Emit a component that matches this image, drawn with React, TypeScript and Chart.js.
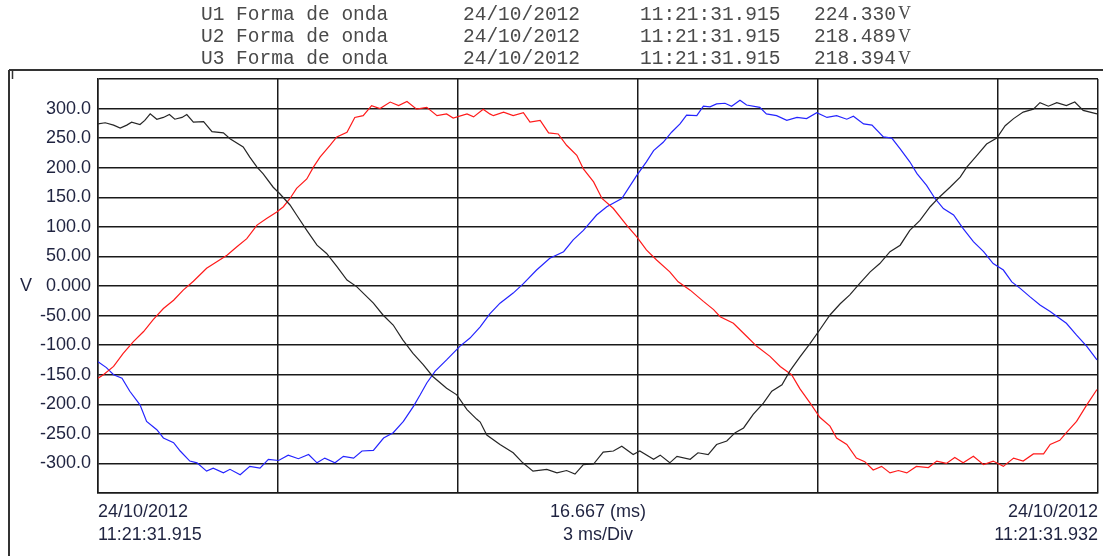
import React, { useEffect, useRef } from "react";
import { Chart, registerables } from "chart.js";

Chart.register(...registerables);

// ---------- header text ----------
const headerNames = ["U1 Forma de onda", "U2 Forma de onda", "U3 Forma de onda"];
const headerDates = ["24/10/2012", "24/10/2012", "24/10/2012"];
const headerTimes = ["11:21:31.915", "11:21:31.915", "11:21:31.915"];
const headerValues = ["224.330", "218.489", "218.394"];
const headerUnit = "V";

// ---------- axis text ----------
const yUnitLabel = "V";
const xStartLabel = ["24/10/2012", "11:21:31.915"];
const xMidLabel = ["16.667 (ms)", "3 ms/Div"];
const xEndLabel = ["24/10/2012", "11:21:31.932"];

const windowMs = 16.667;
const divisionMs = 3;
const voltMin = -350;
const voltMax = 350;
const voltStep = 50;

// ---------- series (time in ms, value in V) ----------
const u1TimeMs = [0.00,0.12,0.26,0.37,0.48,0.56,0.70,0.78,0.87,0.98,1.09,1.19,1.28,1.40,1.48,1.59,1.76,1.90,2.09,2.20,2.42,2.53,2.65,2.75,2.92,3.03,3.20,3.31,3.48,3.65,3.81,3.98,4.15,4.31,4.59,4.75,4.92,5.08,5.25,5.42,5.58,5.81,5.98,6.15,6.31,6.37,6.48,6.70,6.92,7.08,7.25,7.48,7.65,7.81,7.95,8.09,8.26,8.42,8.59,8.73,8.92,9.03,9.26,9.37,9.53,9.65,9.87,10.00,10.17,10.31,10.48,10.62,10.76,10.92,11.09,11.23,11.40,11.53,11.70,11.87,12.03,12.20,12.37,12.53,12.70,12.87,13.03,13.20,13.37,13.53,13.70,13.87,14.03,14.20,14.37,14.48,14.65,14.81,14.98,15.12,15.26,15.42,15.59,15.70,15.84,15.98,16.14,16.28,16.42,16.65];
const u1Volts = [274,276,272,267,272,277,273,280,291,282,285,290,282,285,290,277,278,261,259,249,235,218,201,190,167,156,137,120,94,69,55,33,10,-1,-29,-49,-66,-91,-114,-133,-153,-173,-184,-209,-225,-230,-252,-268,-282,-299,-313,-310,-316,-312,-318,-302,-301,-281,-279,-271,-285,-279,-293,-286,-299,-288,-293,-282,-285,-268,-262,-248,-240,-217,-198,-178,-167,-144,-120,-97,-74,-49,-30,-15,5,24,38,58,69,94,111,134,151,167,184,201,221,240,250,271,283,294,299,310,304,310,305,311,297,291];

const u2TimeMs = [0.00,0.09,0.26,0.42,0.59,0.76,0.92,1.09,1.26,1.42,1.59,1.81,1.98,2.15,2.31,2.48,2.65,2.81,2.98,3.09,3.20,3.31,3.48,3.59,3.70,3.87,3.98,4.15,4.28,4.42,4.56,4.70,4.87,5.01,5.15,5.31,5.48,5.65,5.81,5.92,6.15,6.26,6.42,6.53,6.59,6.76,6.92,7.09,7.20,7.37,7.51,7.67,7.81,7.98,8.09,8.26,8.40,8.59,8.81,8.98,9.14,9.31,9.53,9.67,9.87,10.09,10.26,10.37,10.59,10.81,10.98,11.20,11.37,11.56,11.70,11.87,12.03,12.20,12.31,12.48,12.64,12.78,12.92,13.06,13.20,13.34,13.48,13.64,13.84,13.98,14.14,14.28,14.42,14.59,14.76,14.92,15.09,15.26,15.42,15.59,15.76,15.87,16.03,16.14,16.31,16.48,16.65];
const u2Volts = [-156,-150,-136,-114,-94,-77,-57,-38,-24,-7,8,30,41,52,66,80,103,114,125,134,148,165,181,201,218,238,252,260,285,288,305,300,311,305,312,299,302,288,291,284,291,286,299,291,288,294,288,293,277,280,259,257,238,221,198,176,148,131,103,83,61,44,24,7,-7,-26,-40,-52,-63,-85,-102,-119,-136,-150,-174,-198,-222,-237,-257,-268,-291,-297,-311,-305,-316,-312,-316,-305,-307,-296,-300,-290,-299,-288,-302,-296,-305,-291,-296,-284,-284,-268,-261,-248,-229,-201,-175];

const u3TimeMs = [0.00,0.14,0.26,0.40,0.53,0.70,0.81,0.98,1.09,1.26,1.37,1.53,1.65,1.81,1.92,2.09,2.20,2.37,2.53,2.70,2.84,3.01,3.17,3.34,3.51,3.65,3.78,3.95,4.09,4.26,4.40,4.59,4.76,4.92,5.09,5.26,5.37,5.48,5.62,5.81,6.03,6.20,6.37,6.53,6.70,6.92,7.09,7.31,7.53,7.76,7.92,8.09,8.31,8.48,8.73,8.84,8.98,9.14,9.26,9.42,9.56,9.70,9.81,9.98,10.09,10.20,10.31,10.45,10.56,10.70,10.81,11.03,11.14,11.31,11.48,11.65,11.81,11.98,12.15,12.31,12.48,12.59,12.76,12.90,13.09,13.23,13.37,13.53,13.65,13.81,13.95,14.09,14.26,14.42,14.59,14.76,14.92,15.09,15.23,15.37,15.53,15.70,15.87,16.03,16.14,16.31,16.48,16.65];
const u3Volts = [-128,-138,-150,-156,-178,-201,-229,-243,-257,-265,-279,-296,-299,-313,-308,-316,-310,-319,-305,-308,-293,-295,-286,-292,-285,-299,-291,-299,-288,-291,-279,-278,-257,-248,-229,-203,-184,-164,-144,-125,-102,-88,-69,-47,-29,-12,4,27,47,58,78,94,120,134,148,165,187,210,229,243,260,274,289,288,304,303,308,309,304,314,306,302,291,288,280,285,283,293,285,288,282,287,274,272,252,250,232,210,190,170,148,131,120,97,75,58,38,27,7,-4,-18,-32,-43,-55,-63,-83,-102,-125];

const seriesNames = ["U1", "U2", "U3"];
const seriesColors = ["#262626", "#ff1a1a", "#2424ff"];

const toPoints = (t: number[], v: number[]) => t.map((x, i) => ({ x, y: v[i] }));

const W = 1103;
const H = 556;

const decorPlugin = {
  id: "decor",
  afterDraw(chart: any) {
    const ctx = chart.ctx as CanvasRenderingContext2D;
    const a = chart.chartArea;
    const yScale = chart.scales.y;
    ctx.save();

    // outer frame
    ctx.strokeStyle = "#333";
    ctx.lineWidth = 2;
    ctx.beginPath();
    ctx.moveTo(9, 70);
    ctx.lineTo(W, 70);
    ctx.moveTo(9, 70);
    ctx.lineTo(9, H);
    ctx.stroke();
    ctx.lineWidth = 1.5;
    ctx.beginPath();
    ctx.moveTo(12.5, 71);
    ctx.lineTo(12.5, 79);
    ctx.stroke();

    // header
    ctx.fillStyle = "#4a4a4a";
    ctx.textBaseline = "middle";
    ctx.textAlign = "left";
    const rows = [14.5, 37, 59];
    for (let i = 0; i < headerNames.length; i++) {
      ctx.font = "19.5px 'Liberation Mono'";
      ctx.fillText(headerNames[i], 201, rows[i]);
      ctx.fillText(headerDates[i], 463, rows[i]);
      ctx.fillText(headerTimes[i], 640, rows[i]);
      ctx.fillText(headerValues[i], 814, rows[i]);
      ctx.font = "18px 'Liberation Serif'";
      ctx.fillText(headerUnit, 898, rows[i]);
    }

    // y unit
    ctx.fillStyle = "#1f2340";
    ctx.font = "18px 'Liberation Sans'";
    ctx.textAlign = "center";
    ctx.fillText(yUnitLabel, 26, yScale.getPixelForValue(0));

    // bottom labels
    const r1 = a.bottom + 19.5;
    const r2 = a.bottom + 42;
    ctx.textAlign = "left";
    ctx.fillText(xStartLabel[0], a.left, r1);
    ctx.fillText(xStartLabel[1], a.left, r2);
    ctx.textAlign = "center";
    const mid = (a.left + a.right) / 2;
    ctx.fillText(xMidLabel[0], mid, r1);
    ctx.fillText(xMidLabel[1], mid, r2);
    ctx.textAlign = "right";
    ctx.fillText(xEndLabel[0], a.right, r1);
    ctx.fillText(xEndLabel[1], a.right, r2);

    ctx.restore();
  },
};

export default function App() {
  const canvasRef = useRef<HTMLCanvasElement | null>(null);

  useEffect(() => {
    const canvas = canvasRef.current;
    if (!canvas) return;
    const gridColor = "#1a1a1a";
    const chart = new Chart(canvas, {
      type: "line",
      data: {
        datasets: [
          { label: seriesNames[0], data: toPoints(u1TimeMs, u1Volts), borderColor: seriesColors[0] },
          { label: seriesNames[1], data: toPoints(u2TimeMs, u2Volts), borderColor: seriesColors[1] },
          { label: seriesNames[2], data: toPoints(u3TimeMs, u3Volts), borderColor: seriesColors[2] },
        ].map((d) => ({ ...d, borderWidth: 1.2, pointRadius: 0, tension: 0, fill: false })),
      },
      options: {
        animation: false,
        responsive: false,
        maintainAspectRatio: false,
        layout: { padding: { top: 79, bottom: 63, left: 0, right: 5 } },
        plugins: { legend: { display: false }, tooltip: { enabled: false } },
        scales: {
          x: {
            type: "linear",
            min: 0,
            max: windowMs,
            ticks: { display: false, stepSize: divisionMs },
            grid: { color: gridColor, lineWidth: 1.5, drawTicks: false },
            border: { display: true, color: gridColor, width: 1.5 },
            afterFit: (s: any) => { s.height = 0; },
          },
          y: {
            min: voltMin,
            max: voltMax,
            ticks: {
              stepSize: voltStep,
              padding: 7,
              color: "#1f2340",
              font: { family: "'Liberation Sans'", size: 18 },
              callback: (v: any) => (v <= voltMin || v >= voltMax ? "" : Number(v).toPrecision(4)),
            },
            grid: { color: gridColor, lineWidth: 1.5, drawTicks: false },
            border: { display: true, color: gridColor, width: 1.5 },
            afterFit: (s: any) => { s.width = 98; },
          },
        },
      },
      plugins: [decorPlugin],
    });
    return () => chart.destroy();
  }, []);

  return (
    <div style={{ position: "fixed", left: 0, top: 0, width: W, height: H, background: "#fff", overflow: "hidden" }}>
      <canvas ref={canvasRef} width={W} height={H} style={{ display: "block", width: W, height: H }} />
    </div>
  );
}
